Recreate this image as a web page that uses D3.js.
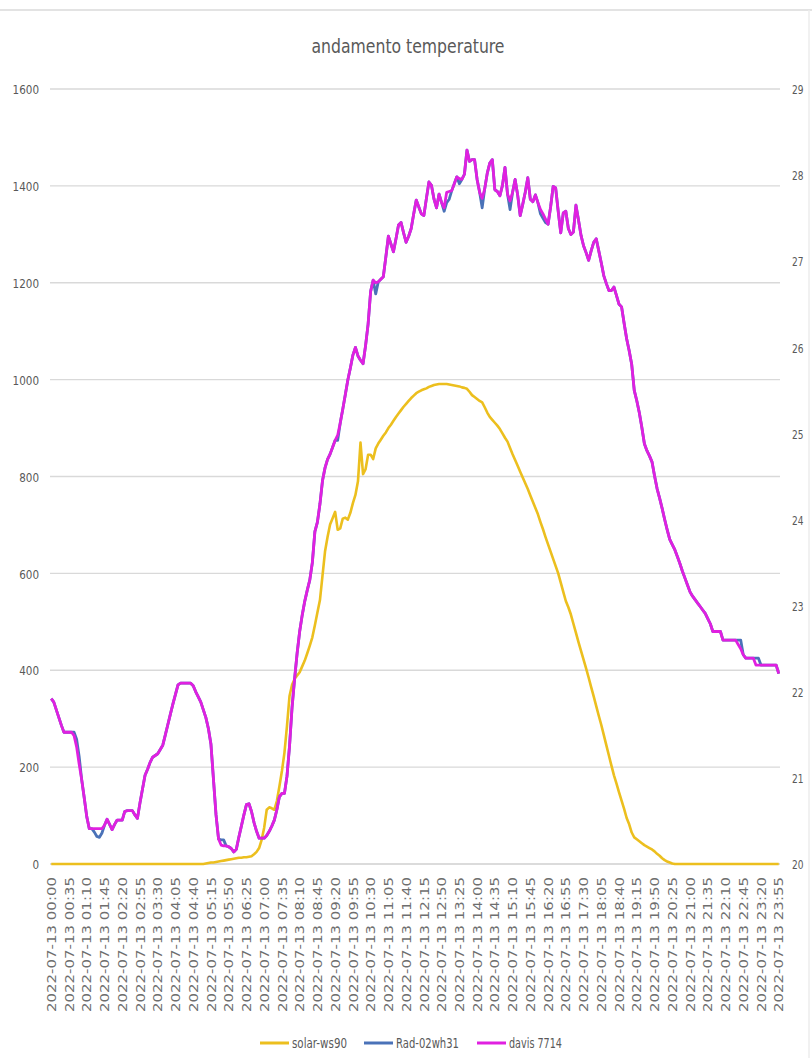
<!DOCTYPE html>
<html>
<head>
<meta charset="utf-8">
<script src="https://cdn.jsdelivr.net/npm/d3@7"></script>
<style>
  html, body { margin: 0; padding: 0; background: #ffffff; }
  svg { display: block; }
</style>
</head>
<body>
<svg id="chart" width="812" height="1058"></svg>
<script>
// ---------- DATA ----------
const chartTitle = "andamento temperature";
const seriesNames = ["solar-ws90", "Rad-02wh31", "davis 7714"];

// 5-minute categories for 2022-07-13
const categories = [];
for (let h = 0; h < 24; h++) {
  for (let m = 0; m < 60; m += 5) {
    categories.push("2022-07-13 " + String(h).padStart(2, "0") + ":" + String(m).padStart(2, "0"));
  }
}
// x tick labels (every 35 minutes)
const tickLabels = [
  "2022-07-13 00:00","2022-07-13 00:35","2022-07-13 01:10","2022-07-13 01:45","2022-07-13 02:20","2022-07-13 02:55",
  "2022-07-13 03:30","2022-07-13 04:05","2022-07-13 04:40","2022-07-13 05:15","2022-07-13 05:50","2022-07-13 06:25",
  "2022-07-13 07:00","2022-07-13 07:35","2022-07-13 08:10","2022-07-13 08:45","2022-07-13 09:20","2022-07-13 09:55",
  "2022-07-13 10:30","2022-07-13 11:05","2022-07-13 11:40","2022-07-13 12:15","2022-07-13 12:50","2022-07-13 13:25",
  "2022-07-13 14:00","2022-07-13 14:35","2022-07-13 15:10","2022-07-13 15:45","2022-07-13 16:20","2022-07-13 16:55",
  "2022-07-13 17:30","2022-07-13 18:05","2022-07-13 18:40","2022-07-13 19:15","2022-07-13 19:50","2022-07-13 20:25",
  "2022-07-13 21:00","2022-07-13 21:35","2022-07-13 22:10","2022-07-13 22:45","2022-07-13 23:20","2022-07-13 23:55"
];
const leftTicks = [0, 200, 400, 600, 800, 1000, 1200, 1400, 1600];
const rightTicks = [20, 21, 22, 23, 24, 25, 26, 27, 28, 29];

// solar radiation (left axis), one value per 5 minutes
const solarWs90 = [
  0,0,0,0,0,0,0,0,0,0,0,0,
  0,0,0,0,0,0,0,0,0,0,0,0,
  0,0,0,0,0,0,0,0,0,0,0,0,
  0,0,0,0,0,0,0,0,0,0,0,0,
  0,0,0,0,0,0,0,0,0,0,0,0,
  0,1,2,3,3,4,5,6,7,8,9,10,
  11,12,13,13,14,14,15,16,20,25,33,50,
  75,112,117,115,112,130,160,192,230,285,347,370,
  382,389,396,408,420,435,451,468,493,519,545,595,
  645,675,701,714,727,690,693,713,715,711,725,745,
  762,790,870,805,815,845,845,836,858,868,876,884,
  891,900,907,915,923,930,937,944,950,956,962,967,
  972,975,978,980,982,985,987,989,990,991,991,991,
  991,990,989,988,987,986,984,983,981,975,968,964,
  960,956,953,943,932,923,917,911,905,898,889,880,
  872,859,846,834,822,810,798,786,774,761,748,735,
  722,706,691,675,660,645,630,615,600,581,562,543,
  530,515,496,477,458,440,422,404,385,365,346,326,
  306,287,266,245,224,203,183,166,148,131,114,95,
  82,65,55,51,47,43,39,36,33,30,26,21,
  17,12,8,5,3,1,0,0,0,0,0,0,
  0,0,0,0,0,0,0,0,0,0,0,0,
  0,0,0,0,0,0,0,0,0,0,0,0,
  0,0,0,0,0,0,0,0,0,0,0,0
];

// temperature Rad-02wh31 (right axis)
const rad02wh31 = [
  21.92,21.88,21.79,21.70,21.61,21.53,21.53,21.53,21.53,21.53,21.45,21.25,
  20.98,20.77,20.55,20.41,20.41,20.37,20.32,20.31,20.36,20.45,20.52,20.46,
  20.40,20.46,20.51,20.51,20.51,20.61,20.62,20.62,20.62,20.57,20.53,20.71,
  20.87,21.03,21.10,21.18,21.24,21.26,21.28,21.33,21.38,21.50,21.62,21.74,
  21.86,21.97,22.08,22.10,22.10,22.10,22.10,22.10,22.07,22.00,21.94,21.88,
  21.79,21.70,21.57,21.39,20.98,20.57,20.29,20.28,20.28,20.21,20.20,20.18,
  20.14,20.17,20.31,20.44,20.57,20.69,20.70,20.61,20.48,20.38,20.30,20.30,
  20.30,20.33,20.38,20.44,20.51,20.63,20.78,20.82,20.82,21.02,21.37,21.82,
  22.15,22.45,22.70,22.89,23.05,23.18,23.30,23.50,23.86,23.97,24.18,24.45,
  24.60,24.70,24.76,24.84,24.92,24.92,25.12,25.28,25.45,25.62,25.76,25.91,
  26.00,25.90,25.85,25.81,26.02,26.27,26.65,26.78,26.62,26.76,26.79,26.82,
  27.05,27.29,27.20,27.11,27.26,27.42,27.45,27.33,27.22,27.29,27.38,27.55,
  27.71,27.63,27.55,27.53,27.73,27.92,27.88,27.72,27.62,27.78,27.68,27.58,
  27.68,27.72,27.82,27.90,27.98,27.90,27.95,28.01,28.29,28.16,28.18,28.18,
  27.95,27.80,27.62,27.84,28.02,28.14,28.18,27.83,27.81,27.76,27.88,28.09,
  27.78,27.60,27.80,27.95,27.77,27.53,27.66,27.80,27.97,27.72,27.69,27.77,
  27.68,27.55,27.50,27.45,27.43,27.63,27.87,27.85,27.58,27.33,27.56,27.58,
  27.38,27.31,27.34,27.65,27.48,27.30,27.18,27.10,27.01,27.12,27.22,27.26,
  27.12,26.98,26.83,26.74,26.66,26.66,26.70,26.60,26.50,26.47,26.28,26.10,
  25.96,25.80,25.50,25.38,25.24,25.07,24.88,24.80,24.74,24.67,24.51,24.36,
  24.25,24.13,24.00,23.88,23.77,23.71,23.65,23.57,23.49,23.40,23.32,23.24,
  23.16,23.11,23.07,23.03,22.99,22.95,22.91,22.85,22.79,22.70,22.70,22.70,
  22.70,22.60,22.60,22.60,22.60,22.60,22.60,22.60,22.60,22.43,22.39,22.39,
  22.39,22.39,22.39,22.39,22.31,22.31,22.31,22.31,22.31,22.31,22.31,22.21
];

// temperature davis 7714 (right axis)
const davis7714 = [
  21.92,21.88,21.79,21.70,21.61,21.53,21.53,21.53,21.53,21.49,21.36,21.16,
  20.98,20.77,20.55,20.41,20.41,20.41,20.41,20.41,20.41,20.45,20.52,20.46,
  20.40,20.46,20.51,20.51,20.51,20.61,20.62,20.62,20.62,20.57,20.53,20.71,
  20.87,21.03,21.10,21.18,21.24,21.26,21.28,21.33,21.38,21.50,21.62,21.74,
  21.86,21.97,22.08,22.10,22.10,22.10,22.10,22.10,22.07,22.00,21.94,21.88,
  21.79,21.70,21.57,21.39,20.98,20.57,20.29,20.22,20.21,20.21,20.20,20.18,
  20.14,20.17,20.31,20.44,20.57,20.69,20.70,20.61,20.48,20.38,20.30,20.30,
  20.30,20.33,20.38,20.44,20.51,20.63,20.78,20.82,20.82,21.02,21.37,21.82,
  22.15,22.45,22.70,22.89,23.05,23.18,23.30,23.50,23.86,23.97,24.18,24.45,
  24.60,24.70,24.76,24.84,24.92,24.98,25.12,25.28,25.45,25.62,25.76,25.91,
  26.00,25.90,25.85,25.81,26.02,26.27,26.65,26.78,26.75,26.76,26.79,26.82,
  27.05,27.29,27.20,27.11,27.26,27.42,27.45,27.33,27.22,27.29,27.38,27.55,
  27.71,27.63,27.55,27.53,27.73,27.92,27.88,27.72,27.62,27.78,27.68,27.62,
  27.80,27.81,27.82,27.90,27.98,27.96,27.95,28.01,28.29,28.16,28.18,28.18,
  27.95,27.80,27.73,27.84,28.02,28.14,28.18,27.83,27.81,27.76,27.88,28.09,
  27.78,27.70,27.80,27.95,27.77,27.53,27.66,27.80,27.97,27.72,27.69,27.77,
  27.68,27.60,27.55,27.49,27.43,27.63,27.87,27.85,27.58,27.33,27.56,27.58,
  27.38,27.31,27.34,27.65,27.48,27.30,27.18,27.10,27.01,27.12,27.22,27.26,
  27.12,26.98,26.83,26.74,26.66,26.66,26.70,26.60,26.50,26.47,26.28,26.10,
  25.96,25.80,25.50,25.38,25.24,25.07,24.88,24.80,24.74,24.67,24.51,24.36,
  24.25,24.13,24.00,23.88,23.77,23.71,23.65,23.57,23.49,23.40,23.32,23.24,
  23.16,23.11,23.07,23.03,22.99,22.95,22.91,22.85,22.79,22.70,22.70,22.70,
  22.70,22.60,22.60,22.60,22.60,22.60,22.60,22.55,22.50,22.43,22.39,22.39,
  22.39,22.39,22.31,22.31,22.31,22.31,22.31,22.31,22.31,22.31,22.31,22.21
];

const seriesColors = ["#ecbf1e", "#4a72b8", "#e020e0"];

// ---------- CHART ----------
const svg = d3.select("#chart");
const plot = { left: 50, right: 780, top: 89, bottom: 864 };
const textColor = "#595959";
const fontStack = "'Liberation Sans Narrow','DejaVu Sans Condensed','DejaVu Sans',sans-serif";

svg.append("rect").attr("width", 812).attr("height", 1058).attr("fill", "#ffffff");
// faint frame remnants
svg.append("line").attr("x1", 0).attr("x2", 812).attr("y1", 10).attr("y2", 10)
  .attr("stroke", "#e3e3e3").attr("stroke-width", 2);
svg.append("line").attr("x1", 809).attr("x2", 809).attr("y1", 10).attr("y2", 1058)
  .attr("stroke", "#ececec").attr("stroke-width", 1.5);

const x = d3.scalePoint().domain(categories).range([plot.left, plot.right]).padding(0.5);
const yL = d3.scaleLinear().domain([0, 1600]).range([plot.bottom, plot.top]);
const yR = d3.scaleLinear().domain([20, 29]).range([plot.bottom, plot.top]);

// gridlines (left axis)
svg.append("g").selectAll("line").data(leftTicks).join("line")
  .attr("x1", plot.left).attr("x2", plot.right)
  .attr("y1", d => yL(d)).attr("y2", d => yL(d))
  .attr("stroke", d => d === 0 ? "#cfcfcf" : "#d9d9d9")
  .attr("stroke-width", 1.4);

// left axis labels
const leftAxis = d3.axisLeft(yL).tickValues(leftTicks).tickFormat(d3.format("d")).tickSize(0).tickPadding(0);
const gL = svg.append("g").attr("transform", `translate(39,0)`).call(leftAxis);
gL.select(".domain").remove();
gL.selectAll("text")
  .attr("x", 0).attr("dy", "0.36em")
  .attr("fill", textColor)
  .style("font-family", fontStack).style("font-size", "13px")
  .attr("textLength", d => String(d).length * 6.6)
  .attr("lengthAdjust", "spacingAndGlyphs");

// right axis labels
const rightAxis = d3.axisRight(yR).tickValues(rightTicks).tickFormat(d3.format("d")).tickSize(0).tickPadding(0);
const gR = svg.append("g").attr("transform", `translate(792,0)`).call(rightAxis);
gR.select(".domain").remove();
gR.selectAll("text")
  .attr("x", 0).attr("dy", "0.36em")
  .attr("fill", textColor)
  .style("font-family", fontStack).style("font-size", "13px")
  .attr("textLength", 11.5)
  .attr("lengthAdjust", "spacingAndGlyphs");

// bottom axis labels (rotated)
const bottomAxis = d3.axisBottom(x).tickValues(tickLabels).tickSize(0).tickPadding(0);
const gB = svg.append("g").attr("transform", `translate(0,${plot.bottom})`).call(bottomAxis);
gB.select(".domain").remove();
gB.selectAll("text")
  .attr("transform", "rotate(-90)")
  .attr("x", -13).attr("y", 0).attr("dy", "0.36em")
  .attr("text-anchor", "end")
  .attr("fill", "#6e6e6e")
  .style("font-family", "'DejaVu Sans',sans-serif").style("font-size", "11.5px")
  .attr("textLength", 135)
  .attr("lengthAdjust", "spacingAndGlyphs");

// lines
const lineL = d3.line().x((d, i) => x(categories[i])).y(d => yL(d)).curve(d3.curveLinear);
const lineR = d3.line().x((d, i) => x(categories[i])).y(d => yR(d)).curve(d3.curveLinear);

svg.append("path").datum(solarWs90).attr("d", lineL)
  .attr("fill", "none").attr("stroke", seriesColors[0]).attr("stroke-width", 2.6)
  .attr("stroke-linejoin", "round");
svg.append("path").datum(rad02wh31).attr("d", lineR)
  .attr("fill", "none").attr("stroke", seriesColors[1]).attr("stroke-width", 2.8)
  .attr("stroke-linejoin", "round");
svg.append("path").datum(davis7714).attr("d", lineR)
  .attr("fill", "none").attr("stroke", seriesColors[2]).attr("stroke-width", 2.8)
  .attr("stroke-linejoin", "round");

// title
svg.append("text").attr("x", 408).attr("y", 53)
  .attr("text-anchor", "middle")
  .attr("fill", textColor)
  .style("font-family", fontStack).style("font-size", "20px")
  .attr("textLength", 193).attr("lengthAdjust", "spacingAndGlyphs")
  .text(chartTitle);

// legend
const legendX = [260, 364, 477];
const legendTextW = [55, 63, 53];
const legendY = 1043;
const lg = svg.append("g");
seriesNames.forEach((name, i) => {
  lg.append("line").attr("x1", legendX[i]).attr("x2", legendX[i] + 29)
    .attr("y1", legendY).attr("y2", legendY)
    .attr("stroke", seriesColors[i]).attr("stroke-width", 3);
  lg.append("text").attr("x", legendX[i] + 32).attr("y", legendY + 5)
    .attr("fill", textColor)
    .style("font-family", fontStack).style("font-size", "14px")
    .attr("textLength", legendTextW[i]).attr("lengthAdjust", "spacingAndGlyphs")
    .text(name);
});
</script>
</body>
</html>
